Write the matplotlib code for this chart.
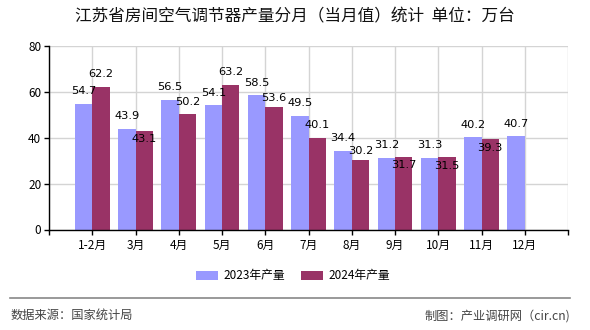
import matplotlib
matplotlib.use("Agg")
import matplotlib.pyplot as plt
from matplotlib.lines import Line2D
import numpy as np

plt.rcParams['font.family'] = ['Noto Sans CJK SC', 'DejaVu Sans']

categories = ["1-2月", "3月", "4月", "5月", "6月", "7月", "8月", "9月", "10月", "11月", "12月"]
values_2023 = [54.7, 43.9, 56.5, 54.1, 58.5, 49.5, 34.4, 31.2, 31.3, 40.2, 40.7]
values_2024 = [62.2, 43.1, 50.2, 63.2, 53.6, 40.1, 30.2, 31.7, 31.5, 39.3]
series_names = ["2023年产量", "2024年产量"]
title = "江苏省房间空气调节器产量分月（当月值）统计  单位：万台"
source_left = "数据来源：国家统计局"
source_right = "制图：产业调研网（cir.cn)"

# label vertical offsets in pixels (style only)
off_2023 = [12.6] * len(values_2023)
off_2024 = [13, -8.5, 12.5, 12.5, 9, 12.5, 9, -8.5, -8.5, -8.5]

c23 = "#9999ff"
c24 = "#993366"

W, H = 590, 330
fig = plt.figure(figsize=(W / 100, H / 100), dpi=100)
ax = fig.add_axes([49 / W, 1 - 229.5 / H, (568 - 49) / W, (229.5 - 46) / H])

x = np.arange(len(categories))
bw = 0.4
b1 = ax.bar(x[:len(values_2023)] - bw / 2, values_2023, bw, color=c23, zorder=2, label=series_names[0])
b2 = ax.bar(x[:len(values_2024)] + bw / 2, values_2024, bw, color=c24, zorder=2, label=series_names[1])

px2pt = 72 / 100
for xi, v, o in zip(x, values_2023, off_2023):
    ax.annotate(f"{v}", (xi - bw / 2, v), xytext=(0, o * px2pt), textcoords="offset points",
                ha="center", va="center", fontsize=8.2, family="DejaVu Sans", zorder=3)
for xi, v, o in zip(x, values_2024, off_2024):
    ax.annotate(f"{v}", (xi + bw / 2, v), xytext=(0, o * px2pt), textcoords="offset points",
                ha="center", va="center", fontsize=8.2, family="DejaVu Sans", zorder=3)

ax.set_xlim(-1, len(categories))
ax.set_ylim(0, 80)
ax.set_yticks([0, 20, 40, 60, 80])
ax.set_xticks(np.arange(-1, len(categories) + 1))
ax.set_xticklabels([""] + categories + [""])
ax.tick_params(axis="both", labelsize=8.5, length=3.5, width=1, color="black", pad=2)
ax.tick_params(axis="x", pad=3)
ax.grid(True, color="#d4d4d4", linewidth=1, zorder=0)
ax.set_axisbelow(True)
for s in ["top", "right"]:
    ax.spines[s].set_visible(False)
ax.spines["left"].set_color("black")
ax.spines["bottom"].set_color("black")
ax.spines["left"].set_linewidth(1)
ax.spines["bottom"].set_linewidth(1)

fig.text(0.5, 1 - 17 / H, title, ha="center", va="center", fontsize=12, color="#111111")

fig.legend(handles=[b1, b2], labels=series_names, loc="center", bbox_to_anchor=(293 / W, 1 - 276 / H),
           ncol=2, frameon=False, fontsize=8.5, handlelength=1.85, handleheight=0.7,
           handletextpad=0.45, columnspacing=1.4)

fig.add_artist(Line2D([10 / W, 570 / W], [1 - 297.7 / H] * 2, color="#888888", linewidth=1.2))
fig.text(11 / W, 1 - 315.7 / H, source_left, ha="left", va="center", fontsize=8.8, color="#444444")
fig.text(570 / W, 1 - 315.7 / H, source_right, ha="right", va="center", fontsize=8.8, color="#444444")

fig.savefig("out.png", dpi=100)
